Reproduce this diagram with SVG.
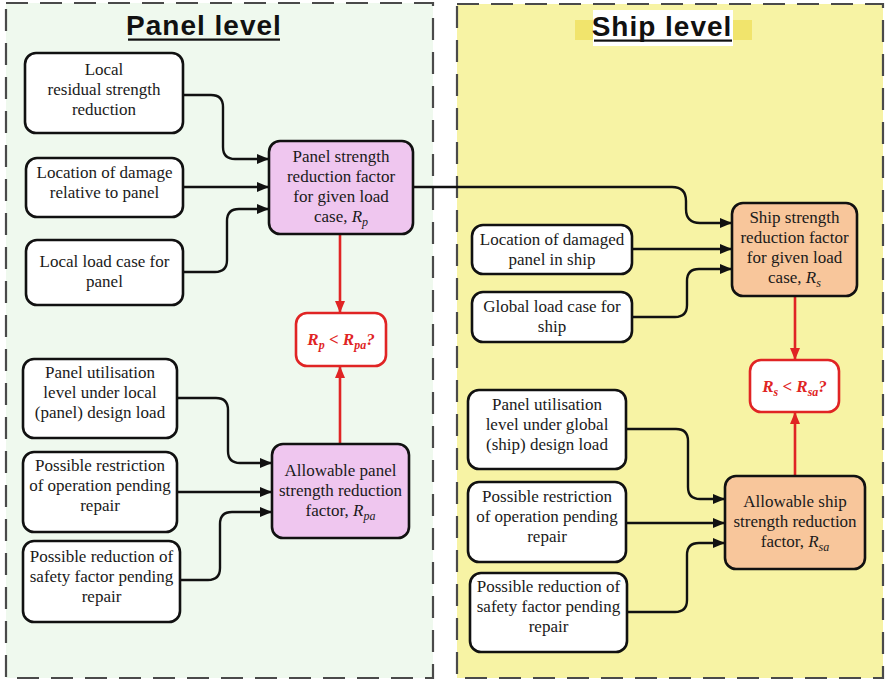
<svg xmlns="http://www.w3.org/2000/svg" width="885" height="681" viewBox="0 0 885 681">
<style>
.panel{stroke:#4a4a4a;stroke-width:2.2;stroke-dasharray:22 12}
.box{fill:#fff;stroke:#111;stroke-width:2.6}
.pink{fill:#efc6ef;stroke:#111;stroke-width:2.6}
.orange{fill:#f8c69b;stroke:#111;stroke-width:2.6}
.cmp{fill:#fff;stroke:#e02424;stroke-width:2.6}
text{font-family:Liberation Serif,Tinos,Times New Roman,DejaVu Serif,serif;font-size:17px;fill:#1a1a1a;text-anchor:middle}
.title{font-family:Liberation Sans,Arimo,Arial,sans-serif;font-weight:bold;font-size:28px;fill:#111}
.ctext{font-weight:bold;font-style:italic;fill:#e02424}
.it{font-style:italic}
.sub{font-style:italic;font-size:12px}
.blk{fill:none;stroke:#111;stroke-width:2.4}
.red{fill:none;stroke:#e02424;stroke-width:2.6}
</style>
<defs>
<marker id="ab" viewBox="0 0 12 10" refX="12" refY="5" markerWidth="12" markerHeight="10" markerUnits="userSpaceOnUse" orient="auto"><path d="M0,0 L12,5 L0,10 z" fill="#111"/></marker>
<marker id="ar" viewBox="0 0 12 10" refX="12" refY="5" markerWidth="12" markerHeight="10" markerUnits="userSpaceOnUse" orient="auto"><path d="M0,0 L12,5 L0,10 z" fill="#e02424"/></marker>
</defs>
<rect width="885" height="681" fill="#fff"/>
<g id="panel-level">
<rect class="panel" x="6" y="3" width="427" height="675" fill="#eff9ee"/>
<text class="title" x="204" y="35" font-family="Liberation Sans, Arial, sans-serif" letter-spacing="1">Panel level</text>
<rect x="128" y="38.5" width="152" height="2.2" fill="#111"/>
</g>
<g id="ship-level">
<rect class="panel" x="457" y="4" width="426" height="674" fill="#f7f3a4"/>
<rect x="575" y="20" width="177" height="20" fill="#f1e46c"/>
<rect x="593" y="10" width="140" height="36" fill="#fff"/>
<text class="title" x="662" y="36" font-family="Liberation Sans, Arial, sans-serif" letter-spacing="1">Ship level</text>
<rect x="594" y="39.5" width="138" height="2.2" fill="#111"/>
</g>
<g id="connectors">
<path class="blk" d="M183,95 H211 Q223,95 223,107 V147 Q223,159 235,159 H269" marker-end="url(#ab)"/>
<path class="blk" d="M183,187 H269" marker-end="url(#ab)"/>
<path class="blk" d="M183,272 H215 Q227,272 227,260 V221 Q227,209 239,209 H269" marker-end="url(#ab)"/>
<path class="blk" d="M413,187 H672 Q686,187 686,201 V209 Q686,223 700,223 H732" marker-end="url(#ab)"/>
<path class="blk" d="M632,249 H732" marker-end="url(#ab)"/>
<path class="blk" d="M632,317 H675 Q687,317 687,305 V281 Q687,269 699,269 H732" marker-end="url(#ab)"/>
<path class="blk" d="M177,398 H216 Q228,398 228,410 V451 Q228,463 240,463 H272" marker-end="url(#ab)"/>
<path class="blk" d="M177,492 H272" marker-end="url(#ab)"/>
<path class="blk" d="M180,580 H208 Q220,580 220,568 V524 Q220,512 232,512 H272" marker-end="url(#ab)"/>
<path class="blk" d="M626,429 H676 Q688,429 688,441 V487 Q688,499 700,499 H725" marker-end="url(#ab)"/>
<path class="blk" d="M626,523 H725" marker-end="url(#ab)"/>
<path class="blk" d="M627,612 H675 Q687,612 687,600 V555 Q687,543 699,543 H725" marker-end="url(#ab)"/>
<path class="red" d="M340,234 V313" marker-end="url(#ar)"/>
<path class="red" d="M340,445 V366" marker-end="url(#ar)"/>
<path class="red" d="M795,296 V360" marker-end="url(#ar)"/>
<path class="red" d="M795,476 V412" marker-end="url(#ar)"/>
</g>
<g font-family="Liberation Serif, Times New Roman, serif">
<g id="local-residual">
<rect class="box" x="25" y="53" width="158" height="80" rx="11"/>
<text x="104" y="75">Local</text>
<text x="104" y="95">residual strength</text>
<text x="104" y="115">reduction</text>
</g>
<g id="location-damage">
<rect class="box" x="26" y="158" width="157" height="59" rx="11"/>
<text x="104.5" y="178">Location of damage</text>
<text x="104.5" y="198">relative to panel</text>
</g>
<g id="local-load">
<rect class="box" x="26" y="240" width="157" height="65" rx="11"/>
<text x="104.5" y="267">Local load case for</text>
<text x="104.5" y="287">panel</text>
</g>
<g id="panel-strength">
<rect class="pink" x="269" y="141" width="144" height="93" rx="11"/>
<text x="341" y="162">Panel strength</text>
<text x="341" y="182">reduction factor</text>
<text x="341" y="202">for given load</text>
<text x="341" y="222">case, <tspan class="it">R</tspan><tspan class="sub" dy="4">p</tspan></text>
</g>
<g id="panel-check">
<rect class="cmp" x="296" y="313" width="90" height="53" rx="11"/>
<text class="ctext" x="341" y="345">R<tspan font-size="12" dy="4">p</tspan><tspan dy="-4"> &lt; R</tspan><tspan font-size="12" dy="4">pa</tspan><tspan dy="-4">?</tspan></text>
</g>
<g id="panel-utilisation">
<rect class="box" x="23" y="359" width="154" height="79" rx="11"/>
<text x="100" y="378">Panel utilisation</text>
<text x="100" y="398">level under local</text>
<text x="100" y="418">(panel) design load</text>
</g>
<g id="panel-restriction">
<rect class="box" x="23" y="452" width="154" height="80" rx="11"/>
<text x="100" y="471">Possible restriction</text>
<text x="100" y="491">of operation pending</text>
<text x="100" y="511">repair</text>
</g>
<g id="panel-safety">
<rect class="box" x="23" y="541" width="157" height="81" rx="11"/>
<text x="101.5" y="562">Possible reduction of</text>
<text x="101.5" y="582">safety factor pending</text>
<text x="101.5" y="602">repair</text>
</g>
<g id="allowable-panel">
<rect class="pink" x="272" y="444" width="137" height="94" rx="11"/>
<text x="340.5" y="476">Allowable panel</text>
<text x="340.5" y="496">strength reduction</text>
<text x="340.5" y="516">factor, <tspan class="it">R</tspan><tspan class="sub" dy="4">pa</tspan></text>
</g>
<g id="ship-strength">
<rect class="orange" x="732" y="203" width="125" height="93" rx="11"/>
<text x="794.5" y="223">Ship strength</text>
<text x="794.5" y="243">reduction factor</text>
<text x="794.5" y="263">for given load</text>
<text x="794.5" y="283">case, <tspan class="it">R</tspan><tspan class="sub" dy="4">s</tspan></text>
</g>
<g id="location-damaged-panel">
<rect class="box" x="472" y="225" width="160" height="49" rx="11"/>
<text x="552" y="245">Location of damaged</text>
<text x="552" y="265">panel in ship</text>
</g>
<g id="global-load">
<rect class="box" x="472" y="292" width="160" height="50" rx="11"/>
<text x="552" y="312">Global load case for</text>
<text x="552" y="332">ship</text>
</g>
<g id="ship-check">
<rect class="cmp" x="750" y="360" width="89" height="52" rx="11"/>
<text class="ctext" x="794.5" y="392">R<tspan font-size="12" dy="4">s</tspan><tspan dy="-4"> &lt; R</tspan><tspan font-size="12" dy="4">sa</tspan><tspan dy="-4">?</tspan></text>
</g>
<g id="ship-utilisation">
<rect class="box" x="468" y="390" width="158" height="79" rx="11"/>
<text x="547" y="410">Panel utilisation</text>
<text x="547" y="430">level under global</text>
<text x="547" y="450">(ship) design load</text>
</g>
<g id="ship-restriction">
<rect class="box" x="468" y="482" width="158" height="80" rx="11"/>
<text x="547" y="502">Possible restriction</text>
<text x="547" y="522">of operation pending</text>
<text x="547" y="542">repair</text>
</g>
<g id="ship-safety">
<rect class="box" x="470" y="573" width="157" height="79" rx="11"/>
<text x="548.5" y="592">Possible reduction of</text>
<text x="548.5" y="612">safety factor pending</text>
<text x="548.5" y="632">repair</text>
</g>
<g id="allowable-ship">
<rect class="orange" x="725" y="476" width="140" height="93" rx="11"/>
<text x="795" y="507">Allowable ship</text>
<text x="795" y="527">strength reduction</text>
<text x="795" y="547">factor, <tspan class="it">R</tspan><tspan class="sub" dy="4">sa</tspan></text>
</g>
</g>
</svg>
